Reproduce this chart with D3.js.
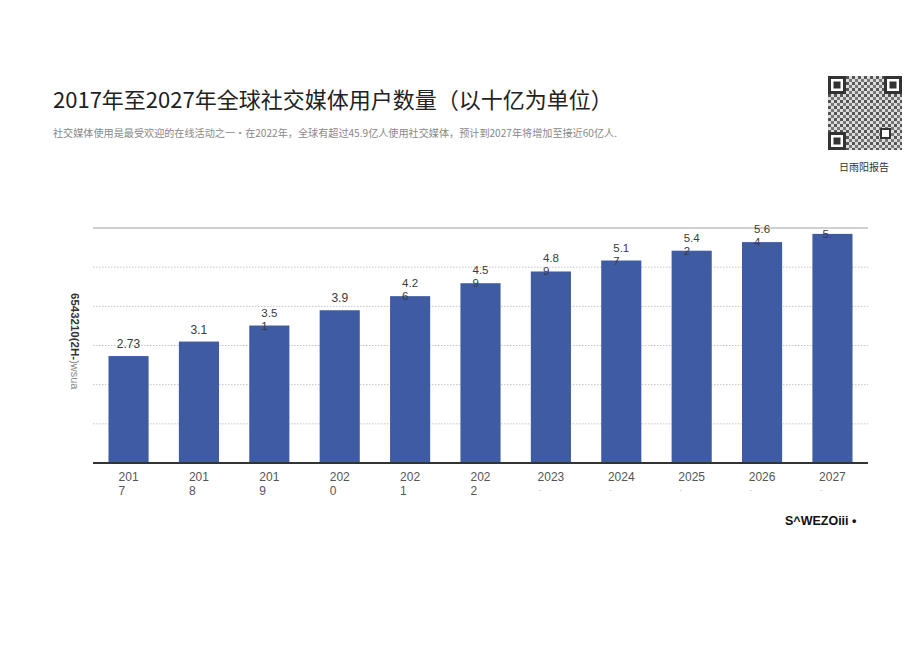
<!DOCTYPE html>
<html><head><meta charset="utf-8">
<script src="https://cdn.jsdelivr.net/npm/d3@7/dist/d3.min.js"></script>
<style>body{margin:0;background:#fff;}svg{display:block;font-family:"Noto Sans CJK SC","Noto Sans",sans-serif;}</style>
</head><body>
<svg id="c" width="920" height="651"></svg>
<script>
const years = ["2017","2018","2019","2020","2021","2022","2023","2024","2025","2026","2027"];
const xLabelLines = [["201","7"],["201","8"],["201","9"],["202","0"],["202","1"],["202","2"],["2023","-"],["2024","-"],["2025","-"],["2026","-"],["2027","-"]];
const values = [2.73,3.1,3.51,3.9,4.26,4.59,4.89,5.17,5.42,5.64,5.85];
const valueLabelLines = [["2.73"],["3.1"],["3.5","1"],["3.9"],["4.2","6"],["4.5","9"],["4.8","9"],["5.1","7"],["5.4","2"],["5.6","4"],["","5."]];
const yTicks = [0,1,2,3,4,5,6];

const svg = d3.select("#c");
const x = d3.scaleBand().domain(years).range([93,868]).paddingInner(0.43).paddingOuter(0.22);
const y = d3.scaleLinear().domain([0,6]).range([463,228]);

// title
svg.append("text").attr("x",53).attr("y",108).attr("font-size",22).attr("fill","#222")
  .text("2017年至2027年全球社交媒体用户数量（以十亿为单位）");
svg.append("text").attr("x",53).attr("y",137).attr("font-size",10).attr("fill","#888")
  .attr("textLength",564).attr("lengthAdjust","spacingAndGlyphs")
  .text("社交媒体使用是最受欢迎的在线活动之一•在2022年，全球有超过45.9亿人使用社交媒体，预计到2027年将增加至接近60亿人.");

// QR-like decoration
const qr = svg.append("g").attr("transform","translate(828,76)");
const defs = svg.append("defs");
const pat = defs.append("pattern").attr("id","qrp").attr("width",6).attr("height",6).attr("patternUnits","userSpaceOnUse");
pat.append("rect").attr("width",6).attr("height",6).attr("fill","#ddd");
pat.append("rect").attr("width",3).attr("height",3).attr("fill","#555");
pat.append("rect").attr("x",3).attr("y",3).attr("width",3).attr("height",3).attr("fill","#777");
qr.append("rect").attr("width",74).attr("height",74).attr("fill","url(#qrp)");
[[0,0],[56,0],[0,56]].forEach(([a,b])=>{
  qr.append("rect").attr("x",a).attr("y",b).attr("width",18).attr("height",18).attr("fill","#fff");
  qr.append("rect").attr("x",a+1.5).attr("y",b+1.5).attr("width",15).attr("height",15).attr("fill","none").attr("stroke","#333").attr("stroke-width",3);
  qr.append("rect").attr("x",a+5.5).attr("y",b+5.5).attr("width",7).attr("height",7).attr("fill","#333");
});
qr.append("rect").attr("x",53).attr("y",53).attr("width",9).attr("height",9).attr("fill","#fff").attr("stroke","#333").attr("stroke-width",2);
svg.append("text").attr("x",864).attr("y",171).attr("text-anchor","middle").attr("font-size",10).attr("fill","#333").text("日雨阳报告");

// gridlines
svg.append("g").selectAll("line").data(yTicks.filter(d=>d>0)).join("line")
  .attr("x1",93).attr("x2",868).attr("y1",d=>y(d)).attr("y2",d=>y(d))
  .attr("stroke",d=>d===6?"#c0c0c0":"#c4c4c4")
  .attr("stroke-width",d=>d===6?1.5:1)
  .attr("stroke-dasharray",d=>d===6?null:"1.5,1.5");

// bars
svg.append("g").selectAll("rect").data(values).join("rect")
  .attr("x",(d,i)=>x(years[i])).attr("width",x.bandwidth())
  .attr("y",d=>y(d)).attr("height",d=>y(0)-y(d)).attr("fill","#3f5ca3");

// baseline
svg.append("line").attr("x1",93).attr("x2",868).attr("y1",y(0)).attr("y2",y(0)).attr("stroke","#333").attr("stroke-width",2.2);

// value labels
valueLabelLines.forEach((lines,i)=>{
  const cx = x(years[i]) + x.bandwidth()/2;
  const top = y(values[i]);
  if(lines.length===1){
    svg.append("text").attr("font-family","Liberation Sans, Arial, sans-serif").attr("font-size",12).attr("fill","#3a3a3a")
      .attr("x",cx).attr("y",top-8).attr("text-anchor","middle").text(lines[0]);
  } else {
    const t1 = svg.append("text").attr("font-family","Liberation Sans, Arial, sans-serif").attr("font-size",11.5).attr("fill","#3a3a3a")
      .attr("x",cx).attr("y",top-9).text(lines[0]);
    let w = t1.node().getComputedTextLength();
    if(!w) w = 20;
    t1.attr("x",cx-w/2);
    svg.append("text").attr("font-family","Liberation Sans, Arial, sans-serif").attr("font-size",11.5).attr("fill","#3a3a3a")
      .attr("x",cx-w/2).attr("y",top+4).text(lines[1]);
  }
});

// x labels
xLabelLines.forEach((lines,i)=>{
  const cx = x(years[i]) + x.bandwidth()/2;
  const t = svg.append("text").attr("font-family","Liberation Sans, Arial, sans-serif").attr("font-size",12).attr("fill","#555");
  t.append("tspan").attr("x",cx).attr("y",481).text(lines[0]);
  const w = t.node().getComputedTextLength();
  t.select("tspan").attr("x",cx-w/2);
  t.append("tspan").attr("x",cx-w/2+(lines[1]==="-"?1:0)).attr("y",lines[1]==="-"?492:495)
    .attr("fill",lines[1]==="-"?"#bbb":"#555").attr("font-size",lines[1]==="-"?8:12).text(lines[1]);
});

// y axis title (rotated)
const yt = svg.append("text").attr("transform","translate(71,293) rotate(90)")
  .attr("font-family","Liberation Sans, Arial, sans-serif").attr("font-size",11.5);
yt.append("tspan").attr("font-weight","bold").attr("fill","#333").text("6543210(2H-");
yt.append("tspan").attr("fill","#888").attr("font-size",11).text(")wsua");

// footer
svg.append("text").attr("x",785).attr("y",525).attr("font-family","Liberation Sans, Arial, sans-serif")
  .attr("font-size",12.5).attr("font-weight","bold").attr("fill","#111").text("S^WEZOiii •");
</script>
</body></html>
